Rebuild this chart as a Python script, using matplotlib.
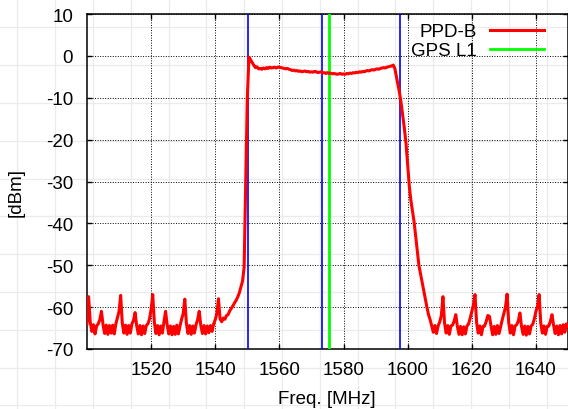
import numpy as np
import matplotlib
matplotlib.use("Agg")
import matplotlib.pyplot as plt
from matplotlib.lines import Line2D

plt.rcParams['font.family'] = ['Liberation Sans', 'DejaVu Sans']
plt.rcParams['font.size'] = 13.5
plt.rcParams['axes.unicode_minus'] = False

#=========================================================================
# data
#=========================================================================
freq_mhz = np.arange(1500.0, 1650.01, 0.5)

ppd_b_dbm = [
    -64.0, -57.5, -63.5, -65.8, -64.2, -66.4, -64.5, -64.0, -63.0, -61.0,  # 1500
    -64.2, -66.3, -64.3, -66.5, -64.4, -66.2, -64.3, -66.4, -64.0, -62.5,  # 1505
    -61.0, -57.2, -63.8, -66.2, -64.3, -66.5, -64.4, -66.2, -64.0, -63.2,  # 1510
    -61.3, -64.5, -66.4, -64.4, -66.6, -64.5, -66.3, -64.4, -64.0, -62.8,  # 1515
    -60.5, -57.0, -63.6, -66.3, -64.4, -66.6, -64.5, -66.2, -63.5, -61.0,  # 1520
    -64.2, -66.4, -64.5, -66.6, -64.6, -66.5, -64.3, -66.4, -64.5, -62.9,  # 1525
    -61.5, -58.1, -63.9, -66.3, -64.4, -66.5, -64.5, -66.2, -64.2, -63.0,  # 1530
    -61.0, -64.4, -66.3, -64.4, -66.4, -64.5, -66.1, -64.4, -65.8, -64.0,  # 1535
    -63.0, -61.5, -58.0, -62.8, -63.5, -62.6, -62.9, -62.0, -61.8, -60.9,  # 1540
    -60.3, -59.7, -59.0, -58.4, -57.6, -56.6, -55.2, -53.8, -50.5, -30.0,  # 1545
    -10.0, -0.3, -0.9, -1.6, -2.2, -2.8, -2.6, -3.1, -3.0, -3.2,  # 1550
    -2.9, -3.1, -2.8, -3.0, -2.7, -2.9, -2.8, -2.7, -2.9, -2.7,  # 1555
    -2.7, -2.8, -2.9, -3.0, -3.1, -3.0, -3.2, -3.3, -3.5, -3.4,  # 1560
    -3.6, -3.5, -3.7, -3.6, -3.8, -3.7, -3.6, -3.8, -3.7, -3.9,  # 1565
    -3.8, -3.9, -3.7, -3.8, -4.0, -3.9, -3.8, -4.1, -4.0, -4.2,  # 1570
    -4.0, -4.2, -4.1, -4.3, -4.2, -4.3, -4.4, -4.3, -4.2, -4.4,  # 1575
    -4.3, -4.4, -4.2, -4.3, -4.1, -4.2, -4.0, -4.1, -3.9, -4.0,  # 1580
    -3.8, -3.9, -3.7, -3.8, -3.6, -3.5, -3.6, -3.4, -3.3, -3.4,  # 1585
    -3.2, -3.1, -3.2, -3.0, -2.9, -2.8, -2.9, -2.7, -2.6, -2.5,  # 1590
    -2.4, -2.2, -3.0, -5.0, -7.0, -9.0, -11.5, -14.5, -17.5, -21.0,  # 1595
    -26.0, -31.0, -34.5, -37.0, -39.6, -43.0, -46.5, -50.0, -52.0, -54.0,  # 1600
    -56.0, -58.0, -60.0, -61.8, -63.0, -64.5, -66.0, -64.4, -66.3, -64.5,  # 1605
    -63.5, -62.0, -57.5, -63.8, -66.2, -64.4, -66.5, -64.5, -64.3, -63.3,  # 1610
    -61.8, -64.6, -66.5, -64.6, -66.6, -64.7, -66.4, -64.5, -64.0, -62.6,  # 1615
    -61.0, -59.5, -57.0, -63.7, -66.2, -64.5, -66.6, -64.6, -64.5, -63.4,  # 1620
    -62.0, -62.2, -64.5, -66.6, -64.6, -66.5, -64.4, -66.3, -64.6, -63.0,  # 1625
    -61.5, -60.0, -56.9, -63.6, -66.2, -64.4, -66.6, -64.5, -64.2, -63.3,  # 1630
    -61.4, -64.6, -66.5, -64.5, -66.7, -64.6, -66.4, -64.5, -64.1, -62.8,  # 1635
    -61.0, -59.8, -57.0, -63.8, -66.2, -64.5, -66.5, -64.6, -64.5, -63.4,  # 1640
    -61.8, -64.3, -66.3, -64.5, -66.6, -64.4, -66.4, -64.2, -66.0, -64.0,  # 1645
    -64.5,
]

gps_l1_mhz = 1575.42
band_edges_mhz = [1550.2, 1573.4, 1597.6]

x_ticks = [1520, 1540, 1560, 1580, 1600, 1620, 1640]
y_ticks = [-70, -60, -50, -40, -30, -20, -10, 0, 10]

#=========================================================================
# figure
#=========================================================================
W, H = 568, 410
fig = plt.figure(figsize=(W / 100, H / 100), dpi=100, facecolor='white')

# light paper grid behind everything
step = 37.8
gx = 17.3
while gx < W:
    fig.add_artist(Line2D([gx / W, gx / W], [0, 1], transform=fig.transFigure,
                          color='#ebebeb', lw=0.9, zorder=0))
    gx += step
gy = 28.3
while gy < H:
    fig.add_artist(Line2D([0, 1], [1 - gy / H, 1 - gy / H], transform=fig.transFigure,
                          color='#ebebeb', lw=0.9, zorder=0))
    gy += step

ax = fig.add_axes([87 / W, 1 - 350 / H, (W - 87) / W, 335 / H])
ax.patch.set_alpha(0)
ax.set_zorder(2)

for xe in band_edges_mhz:
    ax.axvline(xe, color='#0000ff', lw=1.2, zorder=3)
ax.plot(freq_mhz, ppd_b_dbm, color='#ff0000', lw=2.2, label='PPD-B', zorder=4)
ax.axvline(gps_l1_mhz, color='#00ff00', lw=2.0, label='GPS L1', zorder=3)

ax.set_xlim(1500, 1650)
ax.set_ylim(-70, 10)
ax.set_xticks(x_ticks)
ax.set_yticks(y_ticks)
ax.grid(True, color='k', lw=0.7, linestyle=(0, (1, 1.6)))
ax.tick_params(direction='in', length=3.6, width=1.0, top=True, right=True,
               labelsize=13.5)
ax.tick_params(axis='x', pad=9)
ax.tick_params(axis='y', pad=10)
for sp in ax.spines.values():
    sp.set_linewidth(1.1)

ax.set_xlabel('Freq. [MHz]')
ax.xaxis.set_label_coords(326.5 / W, 1 - 391 / H, transform=fig.transFigure)
ax.set_ylabel('[dBm]')
ax.yaxis.set_label_coords(25 / W, 1 - 193 / H, transform=fig.transFigure)

ax.legend(loc='upper right', bbox_to_anchor=(544 / W, 1 - 24 / H),
          bbox_transform=fig.transFigure, frameon=False, markerfirst=False,
          borderpad=0, borderaxespad=0, handlelength=2.9, handletextpad=0.7,
          labelspacing=0.1, fontsize=13.5)

fig.savefig('out.png', dpi=100)
